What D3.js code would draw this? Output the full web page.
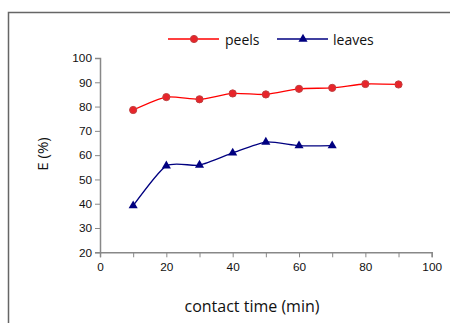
<!DOCTYPE html>
<html>
<head>
<meta charset="utf-8">
<script src="https://cdn.jsdelivr.net/npm/d3@7"></script>
<style>
  body { margin: 0; background: #fff; }
  svg { display: block; }
</style>
</head>
<body>
<svg id="chart" width="450" height="323"></svg>
<script>
// data
const peelsTime = [10, 20, 30, 40, 50, 60, 70, 80, 90];
const peelsE = [78.6, 83.9, 83.0, 85.4, 85.0, 87.3, 87.7, 89.3, 89.1];
const leavesTime = [10, 20, 30, 40, 50, 60, 70];
const leavesE = [39.2, 55.6, 55.9, 60.9, 65.4, 63.9, 63.9];
const xTicks = [0, 20, 40, 60, 80, 100];
const yTicks = [20, 30, 40, 50, 60, 70, 80, 90, 100];

const svg = d3.select("#chart");

// frame of the chart area (right/bottom go off the picture)
svg.append("path")
  .attr("d", "M8.5,323 V12.5 H450")
  .attr("fill", "none")
  .attr("stroke", "#666")
  .attr("stroke-width", 1.5);

const x = d3.scaleLinear().domain([0, 100]).range([100, 431.7]);
const y = d3.scaleLinear().domain([20, 100]).range([252.3, 58]);

const axisColor = "#888";
const tickFont = "'Liberation Sans', Arial, sans-serif";

// y axis
const gy = svg.append("g")
  .attr("transform", "translate(100,0)")
  .call(d3.axisLeft(y).tickValues(yTicks).tickSize(5).tickPadding(3));
// x axis
const gx = svg.append("g")
  .attr("transform", "translate(0,252.3)")
  .call(d3.axisBottom(x).tickValues(xTicks.concat([10, 30, 50, 70, 90])).tickSize(5).tickPadding(5)
    .tickFormat(d => xTicks.includes(d) ? d : ""));

[gx, gy].forEach(g => {
  g.select(".domain").attr("stroke", axisColor).attr("stroke-width", 1.5);
  g.selectAll(".tick line").attr("stroke", axisColor).attr("stroke-width", 1);
  g.selectAll("text").attr("fill", "#111").style("font-size", "11.8px").style("font-family", tickFont);
});

// axis titles
svg.append("text")
  .attr("transform", "translate(48,154) rotate(-90)")
  .attr("text-anchor", "middle")
  .style("font-family", "'Open Sans', sans-serif")
  .style("font-size", "15px")
  .attr("fill", "#111")
  .text("E (%)");

svg.append("text")
  .attr("x", 252).attr("y", 312)
  .attr("text-anchor", "middle")
  .style("font-family", "'Open Sans', sans-serif")
  .style("font-size", "16px")
  .attr("fill", "#111")
  .text("contact time (min)");

const line = d3.line()
  .x(d => x(d[0]))
  .y(d => y(d[1]))
  .curve(d3.curveCardinal.tension(0.35));

const peels = d3.zip(peelsTime, peelsE);
const leaves = d3.zip(leavesTime, leavesE);

svg.append("path")
  .datum(peels)
  .attr("d", line)
  .attr("fill", "none")
  .attr("stroke", "#ff0000")
  .attr("stroke-width", 1.3);

svg.append("path")
  .datum(leaves)
  .attr("d", line)
  .attr("fill", "none")
  .attr("stroke", "#000080")
  .attr("stroke-width", 1.3);

const tri = d3.symbol().type(d3.symbolTriangle).size(36);

svg.append("g").selectAll("circle")
  .data(peels)
  .join("circle")
  .attr("cx", d => x(d[0]))
  .attr("cy", d => y(d[1]))
  .attr("r", 3.6)
  .attr("fill", "#e8242a")
  .attr("stroke", "#c04040")
  .attr("stroke-width", 1);

svg.append("g").selectAll("path")
  .data(leaves)
  .join("path")
  .attr("d", tri)
  .attr("transform", d => `translate(${x(d[0])},${y(d[1])})`)
  .attr("fill", "#000080");

// legend
const legendFont = "'Open Sans', sans-serif";
const leg = svg.append("g");
leg.append("line").attr("x1", 168).attr("x2", 219).attr("y1", 39).attr("y2", 39)
  .attr("stroke", "#ff0000").attr("stroke-width", 1.3);
leg.append("circle").attr("cx", 194).attr("cy", 39).attr("r", 3.6)
  .attr("fill", "#e8242a").attr("stroke", "#c04040");
leg.append("text").attr("x", 225).attr("y", 44.5)
  .style("font-family", legendFont).style("font-size", "14px").attr("fill", "#111")
  .text("peels");

leg.append("line").attr("x1", 277).attr("x2", 328).attr("y1", 39).attr("y2", 39)
  .attr("stroke", "#000080").attr("stroke-width", 1.3);
leg.append("path").attr("d", tri).attr("transform", "translate(303,39)").attr("fill", "#000080");
leg.append("text").attr("x", 333).attr("y", 44.5)
  .style("font-family", legendFont).style("font-size", "14px").attr("fill", "#111")
  .text("leaves");
</script>
</body>
</html>
